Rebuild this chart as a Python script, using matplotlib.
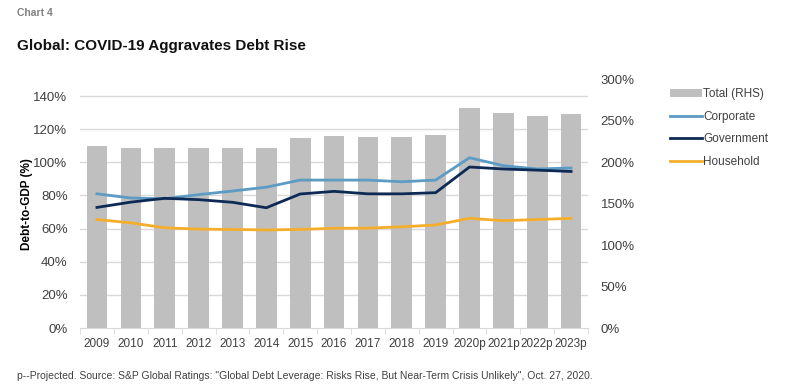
import numpy as np
import matplotlib.pyplot as plt
from matplotlib.ticker import FuncFormatter

# data
years = ["2009", "2010", "2011", "2012", "2013", "2014", "2015", "2016",
         "2017", "2018", "2019", "2020p", "2021p", "2022p", "2023p"]
total = [220, 217, 217, 217, 217, 217, 229, 232, 231, 231, 233, 266, 259, 256, 258]
corporate = [81, 78.5, 78, 80.5, 82.7, 85, 89.3, 89.3, 89.3, 88.3, 89.3, 102.8, 98, 96, 96.6]
government = [72.8, 76, 78.3, 77.5, 75.9, 72.6, 80.9, 82.5, 81, 81, 81.7, 97.2, 96, 95.3, 94.5]
household = [65.5, 63.5, 60.5, 59.7, 59.5, 59.2, 59.5, 60.2, 60.3, 61.1, 62.2, 66.2, 64.8, 65.5, 66.2]

plt.rcParams['font.family'] = ['Liberation Sans', 'DejaVu Sans']

fig = plt.figure(figsize=(7.87, 3.88), dpi=100)
ax2 = fig.add_axes([0.1017, 0.1546, 0.6455, 0.6404])  # right axis: bars
ax = ax2.twinx()
ax.yaxis.tick_left()
ax.yaxis.set_label_position("left")
ax2.yaxis.tick_right()

x = np.arange(len(years))
bar = ax2.bar(x, total, width=0.61, color="#bfbfbf", zorder=2, label="Total (RHS)")
ax2.set_ylim(0, 300)
ax2.set_yticks(np.arange(0, 301, 50))
ax2.yaxis.set_major_formatter(FuncFormatter(lambda v, p: f"{v:.0f}%"))

l1, = ax.plot(x, corporate, color="#5b9bc4", lw=2, label="Corporate")
l2, = ax.plot(x, government, color="#0d2a55", lw=2, label="Government")
l3, = ax.plot(x, household, color="#f5ae2c", lw=2, label="Household")
ax.set_ylim(0, 150)
ax.set_yticks(np.arange(0, 141, 20))
ax.yaxis.set_major_formatter(FuncFormatter(lambda v, p: f"{v:.0f}%"))

# gridlines from left axis, drawn behind bars
for v in np.arange(20, 141, 20):
    ax2.axhline(v * 2, color="#d9d9d9", lw=1, zorder=1)

ax2.set_xlim(-0.5, len(years) - 0.5)
ax2.set_xticks(x)
ax2.set_xticklabels(years)
ax2.set_xticks(np.arange(-0.5, len(years)), minor=True)

for a in (ax, ax2):
    for s in ("top", "left", "right"):
        a.spines[s].set_visible(False)
    a.tick_params(axis="y", length=0, labelsize=9.5, labelcolor="#404040", pad=9)
ax.spines["bottom"].set_visible(False)
ax2.spines["bottom"].set_color("#d9d9d9")
ax2.tick_params(axis="x", which="major", length=0, labelsize=8.5, labelcolor="#404040", pad=7)
ax2.tick_params(axis="x", which="minor", length=4, color="#d9d9d9")

ax.set_ylabel("Debt-to-GDP (%)", fontsize=8.5, fontweight="bold", labelpad=0)

fig.legend(handles=[bar, l1, l2, l3], loc="upper left", bbox_to_anchor=(0.838, 0.80),
           frameon=False, fontsize=8.5, handlelength=2.7, handletextpad=0.1,
           labelspacing=0.9, labelcolor="#404040")

fig.text(0.022, 0.958, "Chart 4", fontsize=7.5, color="#808080", fontweight="bold")
fig.text(0.022, 0.872, "Global: COVID-19 Aggravates Debt Rise", fontsize=11,
         fontweight="bold", color="#111111")
fig.text(0.022, 0.022, 'p--Projected. Source: S&P Global Ratings: "Global Debt Leverage: '
         'Risks Rise, But Near-Term Crisis Unlikely", Oct. 27, 2020.',
         fontsize=7.5, color="#404040")

fig.savefig("out.png", dpi=100)
